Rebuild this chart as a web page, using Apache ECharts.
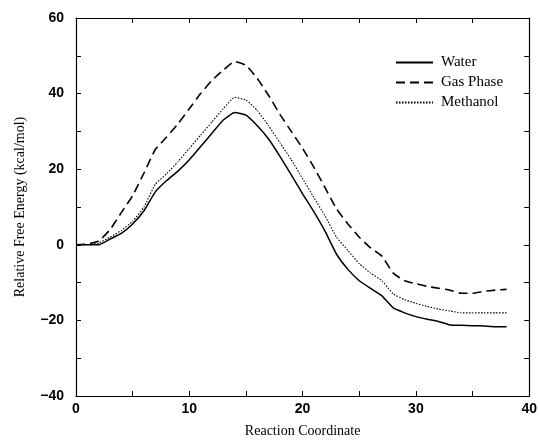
<!DOCTYPE html>
<html>
<head>
<meta charset="utf-8">
<script src="https://cdn.jsdelivr.net/npm/echarts@6/dist/echarts.min.js"></script>
<style>
html,body{margin:0;padding:0;background:#fff;}
#chart{width:540px;height:443px;}
</style>
</head>
<body>
<div id="chart"></div>
<script>
const reactionCoordinate = [0,1,2,3,4,5,6,7,8,9,10,11,12,13,14,15,16,17,18,19,20,21,22,23,24,25,26,27,28,29,30,31,32,33,34,35,36,37,38];
const water = [0,0,0,1.5,3,5.5,9,14,17,19.5,22.5,26,29.5,33,35,34.3,31.5,28,23.4,18.5,13.5,8.7,3.5,-2.5,-6.5,-9.5,-11.5,-13.5,-16.7,-18,-19,-19.7,-20.3,-21.2,-21.3,-21.4,-21.5,-21.7,-21.7];
const gasPhase = [0,0.2,1,4,8.5,13,19,25.2,28.5,32,36,40,43.5,46.2,48.5,47.5,44,39.5,34.5,30,25.5,20.5,15,9.5,5.5,2,-0.8,-3,-7.5,-9.5,-10.3,-11,-11.5,-12,-12.8,-12.8,-12.3,-12,-11.8];
const methanol = [0,0,0.5,2,3.8,6.2,10,16,18.8,22,25.5,29,32.5,36,39,38.3,35.5,31.5,27,22.5,17.5,12.5,7.5,2,-1.5,-5,-7.5,-9.5,-13,-14.5,-15.5,-16.3,-17,-17.5,-18,-18,-18,-18,-18];
const seriesNames = ['Water','Gas Phase','Methanol'];
const xTickLabels = ['0','10','20','30','40'];
const yTickLabels = ['\u221240','\u221220','0','20','40','60'];

const toPairs = arr => arr.map((v,i)=>[reactionCoordinate[i], v]);
const serif = '"Liberation Serif","DejaVu Serif",serif';
const sans = '"Liberation Sans","DejaVu Sans",sans-serif';

const chart = echarts.init(document.getElementById('chart'), null, {renderer:'canvas'});
const axisLine = {show:true, onZero:false, lineStyle:{color:'#000', width:1.2}};
const tick = {show:true, inside:true, length:5, lineStyle:{color:'#000', width:1}};
const opt = {
  animation:false,
  backgroundColor:'#fff',
  grid:{left:76, right:6, top:18, bottom:42},
  legend:{
    orient:'vertical', left:390, top:50, itemWidth:37, itemHeight:12, itemGap:5,
    data:seriesNames,
    itemStyle:{opacity:0, borderWidth:0},
    textStyle:{fontFamily:serif, fontSize:15, color:'#000', padding:[0,0,0,3]}
  },
  xAxis:[{
    type:'value', min:0, max:40, interval:5,
    name:'Reaction Coordinate', nameLocation:'middle', nameGap:28,
    nameTextStyle:{fontFamily:serif, fontSize:14, color:'#000'},
    axisLine:axisLine, axisTick:tick,
    axisLabel:{margin:6, fontFamily:sans, fontSize:14, fontWeight:'bold', color:'#000',
      formatter:v=> (v%10===0 ? xTickLabels[v/10] : '')},
    splitLine:{show:false}
  },{
    type:'value', min:0, max:40, interval:5, position:'top',
    axisLine:axisLine, axisTick:tick,
    axisLabel:{show:false}, splitLine:{show:false}
  }],
  yAxis:[{
    type:'value', min:-40, max:60, interval:10,
    name:'Relative Free Energy (kcal/mol)', nameLocation:'middle', nameGap:49,
    nameTextStyle:{fontFamily:serif, fontSize:14, color:'#000'},
    axisLine:axisLine, axisTick:tick,
    axisLabel:{margin:12, fontFamily:sans, fontSize:14, fontWeight:'bold', color:'#000',
      formatter:v=> (v%20===0 ? yTickLabels[(v+40)/20] : '')},
    splitLine:{show:false}
  },{
    type:'value', min:-40, max:60, interval:10, position:'right',
    axisLine:axisLine, axisTick:tick,
    axisLabel:{show:false}, splitLine:{show:false}
  }],
  series:[
    {name:seriesNames[0], type:'line', data:toPairs(water), symbol:'none', smooth:0.15,
     lineStyle:{color:'#000', width:1.5, type:'solid'}, itemStyle:{color:'#000'}},
    {name:seriesNames[1], type:'line', data:toPairs(gasPhase), symbol:'none', smooth:0.15,
     lineStyle:{color:'#000', width:1.6, type:[9,5]}, itemStyle:{color:'#000'}},
    {name:seriesNames[2], type:'line', data:toPairs(methanol), symbol:'none', smooth:0.15,
     lineStyle:{color:'#000', width:1.1, type:[1.5,1.5]}, itemStyle:{color:'#000'}}
  ]
};
chart.setOption(opt);
</script>
</body>
</html>
